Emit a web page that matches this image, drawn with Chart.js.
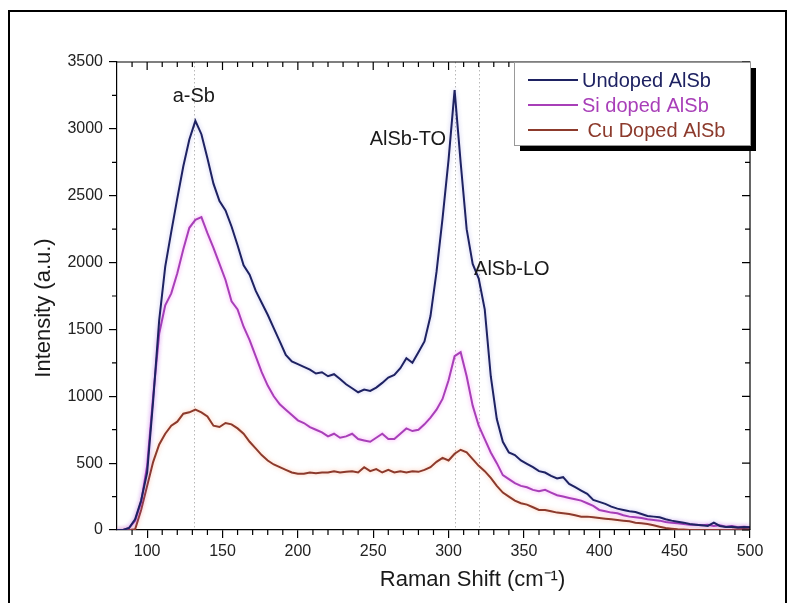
<!DOCTYPE html>
<html>
<head>
<meta charset="utf-8">
<script src="https://cdn.jsdelivr.net/npm/chart.js@4.4.1/dist/chart.umd.min.js"></script>
<style>
  body { margin: 0; background: #fff; }
  #wrap { position: relative; width: 793px; height: 603px; }
  #frame { position: absolute; left: 8px; top: 10px; width: 775px; height: 600px;
           border: 2.5px solid #000; border-bottom: none; pointer-events: none; }
</style>
</head>
<body>
<div id="wrap">
  <canvas id="ramanChart" width="793" height="603"></canvas>
  <div id="frame"></div>
</div>
<script>
// Raman shift (cm-1), one shared grid for all three spectra
const ramanShift = [];
for (let x = 80; x <= 500; x += 4) ramanShift.push(x);

const undoped = [0, 0, 15, 80, 220, 430, 970, 1570, 1970, 2230, 2480, 2720, 2920, 3060, 2960, 2780,
  2590, 2460, 2390, 2270, 2130, 1980, 1910, 1790, 1700, 1610, 1510, 1410, 1310, 1260, 1240, 1220,
  1200, 1170, 1180, 1150, 1165, 1130, 1090, 1060, 1030, 1050, 1040, 1065, 1100, 1140, 1160, 1210,
  1285, 1250, 1330, 1410, 1600, 1930, 2330, 2770, 3290, 2750, 2250, 1990, 1880, 1650, 1150, 830,
  660, 580, 560, 520, 495, 470, 440, 430, 405, 385, 395, 345, 320, 295, 270, 225,
  210, 195, 175, 160, 150, 140, 135, 120, 105, 100, 95, 80, 70, 62, 55, 45,
  40, 35, 30, 55, 30, 22, 25, 18, 22, 20];

const siDoped = [0, 0, 15, 70, 210, 480, 1000, 1470, 1680, 1770, 1920, 2100, 2260, 2320, 2340, 2220,
  2110, 1990, 1870, 1710, 1650, 1520, 1420, 1300, 1180, 1080, 1000, 940, 900, 860, 820, 800,
  770, 750, 730, 700, 720, 690, 700, 720, 680, 670, 660, 690, 720, 680, 680, 720,
  760, 740, 750, 790, 840, 900, 980, 1120, 1300, 1330, 1150, 930, 780, 680, 580, 500,
  410, 380, 350, 330, 320, 300, 290, 300, 280, 260, 250, 240, 230, 220, 200, 180,
  150, 140, 130, 125, 110, 100, 95, 90, 80, 75, 70, 60, 55, 50, 45, 40,
  40, 35, 40, 30, 35, 25, 30, 20, 25, 20];

const cuDoped = [0, 0, 0, 5, 150, 330, 510, 640, 720, 780, 810, 870, 880, 900, 880, 850,
  780, 770, 800, 790, 760, 720, 660, 610, 560, 520, 490, 470, 450, 430, 420, 420,
  430, 425, 430, 430, 440, 430, 435, 440, 430, 470, 440, 455, 430, 450, 430, 440,
  430, 440, 435, 450, 470, 510, 540, 520, 570, 600, 580, 530, 480, 440, 390, 330,
  280, 250, 220, 200, 190, 170, 150, 150, 140, 130, 125, 120, 110, 100, 100, 95,
  90, 85, 80, 75, 70, 65, 55, 50, 45, 35, 25, 15, 10, 5, 3, 0,
  0, 0, 0, 0, 0, 0, 2, 5, 8, 5];

const seriesLabels = ['Undoped AlSb', 'Si doped AlSb', ' Cu Doped AlSb'];
const seriesColors = ['#1e2262', '#a83fb8', '#8c3a2c'];
const glowColors = ['rgba(60,60,200,0.3)', 'rgba(240,90,240,0.55)', 'rgba(250,140,90,0.5)'];

const xTicks = [100, 150, 200, 250, 300, 350, 400, 450, 500];
const peakLines = [131, 304, 320];
const peakNames = ['a-Sb', 'AlSb-TO', 'AlSb-LO'];
const peakNamePos = [[131, 3240], [273, 2920], [342, 1945]];

const fontFam = '"Liberation Sans", Arial, sans-serif';

function toPoints(ys) {
  return ramanShift.map((x, i) => ({ x: x, y: ys[i] }));
}

// soft halo round each spectrum line
const glowPlugin = {
  id: 'glow',
  beforeDatasetDraw(chart, args) {
    const ctx = chart.ctx;
    ctx.save();
    ctx.shadowColor = glowColors[args.index];
    ctx.shadowBlur = 4;
  },
  afterDatasetDraw(chart) {
    chart.ctx.restore();
  }
};

const decorPlugin = {
  id: 'decor',
  beforeDatasetsDraw(chart) {
    const ctx = chart.ctx;
    const xs = chart.scales.x;
    const a = chart.chartArea;
    ctx.save();
    ctx.strokeStyle = '#b8b8b8';
    ctx.lineWidth = 1;
    ctx.setLineDash([1.5, 2.5]);
    peakLines.forEach(v => {
      const px = Math.round(xs.getPixelForValue(v)) + 0.5;
      ctx.beginPath();
      ctx.moveTo(px, a.top);
      ctx.lineTo(px, a.bottom);
      ctx.stroke();
    });
    ctx.restore();
  },
  afterDraw(chart) {
    const ctx = chart.ctx;
    const xs = chart.scales.x;
    const ys = chart.scales.y;
    const a = chart.chartArea;
    ctx.save();
    ctx.strokeStyle = '#000';
    ctx.lineWidth = 1.2;

    // box: top and right edges
    ctx.beginPath();
    ctx.moveTo(a.left, a.top);
    ctx.lineTo(a.right, a.top);
    ctx.lineTo(a.right, a.bottom);
    ctx.stroke();

    // x minor ticks (bottom out, top in) and top major ticks
    ctx.beginPath();
    for (let v = 90; v <= 500; v += 10) {
      const px = xs.getPixelForValue(v);
      const major = v % 50 === 0;
      if (!major) {
        ctx.moveTo(px, a.bottom);
        ctx.lineTo(px, a.bottom + 5);
      }
      ctx.moveTo(px, a.top);
      ctx.lineTo(px, a.top + (major ? 8 : 5));
    }
    // y minor ticks (left out) and right side ticks (in)
    for (let v = 0; v <= 3500; v += 250) {
      const py = ys.getPixelForValue(v);
      const major = v % 500 === 0;
      if (!major) {
        ctx.moveTo(a.left, py);
        ctx.lineTo(a.left - 5, py);
      }
      ctx.moveTo(a.right, py);
      ctx.lineTo(a.right - (major ? 8 : 5), py);
    }
    ctx.stroke();

    // peak names
    ctx.fillStyle = '#1a1a1a';
    ctx.font = '20px ' + fontFam;
    ctx.textAlign = 'center';
    ctx.textBaseline = 'middle';
    peakNames.forEach((t, i) => {
      ctx.fillText(t, xs.getPixelForValue(peakNamePos[i][0]), ys.getPixelForValue(peakNamePos[i][1]));
    });

    // legend with drop shadow
    const lx = 514, ly = a.top, lw = a.right - 514, lh = 83;
    ctx.fillStyle = '#000';
    ctx.fillRect(lx + 6, ly + 6, lw, lh);
    ctx.fillStyle = '#fff';
    ctx.fillRect(lx, ly, lw, lh);
    ctx.strokeStyle = '#999';
    ctx.lineWidth = 1;
    ctx.strokeRect(lx + 0.5, ly + 0.5, lw, lh);
    ctx.textAlign = 'left';
    ctx.font = '20px ' + fontFam;
    seriesLabels.forEach((t, i) => {
      const ry = ly + 18 + i * 25;
      ctx.strokeStyle = seriesColors[i];
      ctx.lineWidth = 2;
      ctx.beginPath();
      ctx.moveTo(528, ry);
      ctx.lineTo(578, ry);
      ctx.stroke();
      ctx.fillStyle = seriesColors[i];
      ctx.fillText(t, 582, ry + 1);
    });

    // axis titles
    ctx.fillStyle = '#1a1a1a';
    ctx.font = '22px ' + fontFam;
    ctx.textAlign = 'center';
    ctx.save();
    ctx.translate(44, (a.top + a.bottom) / 2 + 12);
    ctx.rotate(-Math.PI / 2);
    ctx.fillText('Intensity (a.u.)', 0, 0);
    ctx.restore();
    ctx.fillText('Raman Shift (cm\u207B\u00B9)', (a.left + a.right) / 2 + 39, 580);
    ctx.restore();
  }
};

const ctx = document.getElementById('ramanChart').getContext('2d');
new Chart(ctx, {
  type: 'line',
  data: {
    datasets: [undoped, siDoped, cuDoped].map((ys, i) => ({
      label: seriesLabels[i],
      data: toPoints(ys),
      borderColor: seriesColors[i],
      borderWidth: 2,
      pointRadius: 0,
      tension: 0,
      fill: false
    }))
  },
  options: {
    responsive: false,
    animation: false,
    layout: { padding: { top: 62, right: 43, left: 0, bottom: 0 } },
    plugins: { legend: { display: false }, tooltip: { enabled: false } },
    scales: {
      x: {
        type: 'linear',
        min: 80,
        max: 500,
        afterBuildTicks(scale) {
          scale.ticks = xTicks.map(v => ({ value: v }));
        },
        afterFit(scale) { scale.height = 73; },
        grid: { drawOnChartArea: false, drawTicks: true, tickLength: 8, color: '#000', lineWidth: 1.2 },
        border: { display: true, color: '#000', width: 1.2 },
        ticks: { color: '#222', padding: 4, font: { size: 16, family: fontFam }, maxRotation: 0,
                 callback: v => String(v) }
      },
      y: {
        min: 0,
        max: 3500,
        ticks: { stepSize: 500, color: '#222', padding: 6, font: { size: 16, family: fontFam },
                 callback: v => String(v) },
        afterFit(scale) { scale.width = 117; },
        grid: { drawOnChartArea: false, drawTicks: true, tickLength: 8, color: '#000', lineWidth: 1.2 },
        border: { display: true, color: '#000', width: 1.2 }
      }
    }
  },
  plugins: [glowPlugin, decorPlugin]
});
</script>
</body>
</html>
